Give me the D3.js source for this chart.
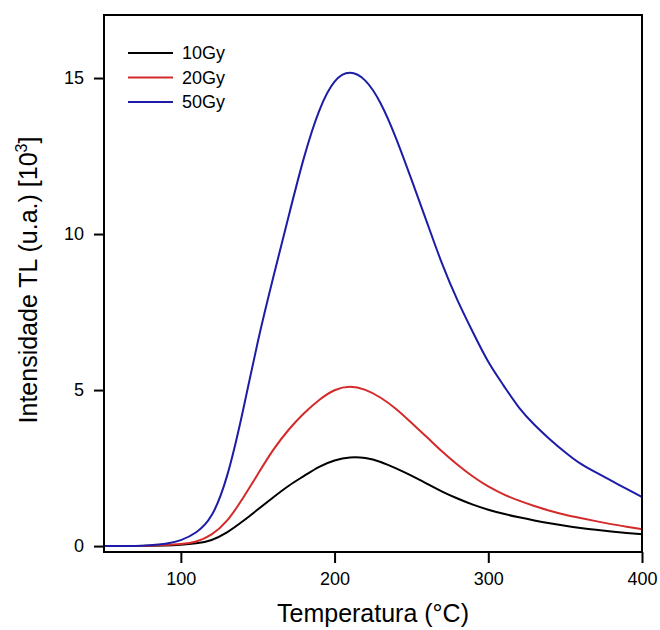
<!DOCTYPE html>
<html>
<head>
<meta charset="utf-8">
<script src="https://cdn.jsdelivr.net/npm/d3@7"></script>
<style>
  body { margin: 0; background: #fff; }
  text { font-family: "Liberation Sans", Arial, sans-serif; }
</style>
</head>
<body>
<div id="chart"></div>
<script>
// temperature grid (°C)
var temps = [50, 60, 70, 80, 90, 100, 110, 120, 130, 140, 150, 160, 170, 180, 190, 200, 210, 220,
             230, 240, 250, 260, 270, 280, 290, 300, 310, 320, 330, 340, 350, 360, 370, 380, 390, 400];

// TL intensity [10^3 u.a.]
var gy10 = [0, 0, 0, 0.01, 0.02, 0.04, 0.08, 0.17, 0.42, 0.78, 1.17, 1.56, 1.94, 2.24, 2.56, 2.76, 2.86, 2.84,
            2.71, 2.49, 2.26, 2.0, 1.74, 1.52, 1.32, 1.16, 1.03, 0.92, 0.82, 0.73, 0.65, 0.58, 0.52, 0.47, 0.42, 0.38];
var gy20 = [0, 0, 0, 0.01, 0.03, 0.06, 0.12, 0.34, 0.76, 1.5, 2.3, 3.1, 3.74, 4.26, 4.7, 5.03, 5.14, 5.03,
            4.77, 4.41, 3.95, 3.5, 3.02, 2.6, 2.22, 1.9, 1.65, 1.45, 1.28, 1.13, 1.0, 0.9, 0.8, 0.7, 0.62, 0.54];
var gy50 = [0, 0, 0, 0.02, 0.06, 0.17, 0.41, 0.85, 2.1, 4.2, 6.6, 8.6, 10.55, 12.5, 14.05, 15.0, 15.25, 15.0,
            14.25, 13.1, 11.75, 10.4, 9.0, 7.85, 6.85, 5.86, 5.15, 4.4, 3.88, 3.42, 3.0, 2.62, 2.36, 2.1, 1.83, 1.57];

var seriesNames = ["10Gy", "20Gy", "50Gy"];
var seriesColors = ["#000000", "#d42a2a", "#1c1ca8"];
var xTicks = [100, 200, 300, 400];
var yTicks = [0, 5, 10, 15];

var margin = {top: 15, right: 18, bottom: 78, left: 104},
    width = 660 - margin.left - margin.right,
    height = 630 - margin.top - margin.bottom;

var x = d3.scaleLinear().domain([50, 400]).range([0, width]);
var y = d3.scaleLinear().domain([-0.19, 17.02]).range([height, 0]);

var svg = d3.select("#chart").append("svg")
    .attr("width", 660)
    .attr("height", 630)
    .append("g")
    .attr("transform", "translate(" + margin.left + "," + margin.top + ")");

var series = [gy10, gy20, gy50].map(function (vals, i) {
    return {
        name: seriesNames[i],
        color: seriesColors[i],
        values: temps.map(function (t, j) { return {t: t, v: vals[j]}; })
    };
});

var line = d3.line()
    .x(function (d) { return x(d.t); })
    .y(function (d) { return y(d.v); })
    .curve(d3.curveBasis);

svg.append("defs").append("clipPath").attr("id", "clip")
    .append("rect").attr("width", width).attr("height", height);

svg.append("g").attr("clip-path", "url(#clip)")
    .selectAll("path")
    .data(series)
    .enter().append("path")
    .attr("fill", "none")
    .attr("stroke", function (d) { return d.color; })
    .attr("stroke-width", 2)
    .attr("d", function (d) { return line(d.values); });

// frame
svg.append("rect")
    .attr("width", width)
    .attr("height", height)
    .attr("fill", "none")
    .attr("stroke", "#000")
    .attr("stroke-width", 2);

// x axis
var xAxis = svg.append("g")
    .attr("transform", "translate(0," + height + ")")
    .call(d3.axisBottom(x).tickValues(xTicks).tickSize(11).tickPadding(9).tickSizeOuter(0));
xAxis.select(".domain").remove();
xAxis.selectAll("line").attr("stroke-width", 2);
xAxis.selectAll("text").attr("font-size", 18).attr("fill", "#000")
    .style("font-family", "'Liberation Sans', Arial, sans-serif");

// y axis
var yAxis = svg.append("g")
    .call(d3.axisLeft(y).tickValues(yTicks).tickSize(10).tickPadding(10).tickSizeOuter(0));
yAxis.select(".domain").remove();
yAxis.selectAll("line").attr("stroke-width", 2);
yAxis.selectAll("text").attr("font-size", 18).attr("fill", "#000")
    .style("font-family", "'Liberation Sans', Arial, sans-serif");

// axis titles
svg.append("text")
    .attr("x", width / 2)
    .attr("y", height + 70)
    .attr("text-anchor", "middle")
    .attr("font-size", 25)
    .text("Temperatura (°C)");

var yTitle = svg.append("text")
    .attr("transform", "translate(-67,265) rotate(-90)")
    .attr("text-anchor", "middle")
    .attr("font-size", 25);
yTitle.append("tspan").text("Intensidade TL (u.a.) [10");
yTitle.append("tspan").attr("font-size", 16).attr("dy", -10).text("3");
yTitle.append("tspan").attr("dy", 10).text("]");

// legend
var legend = svg.selectAll(".legend")
    .data(series)
    .enter().append("g")
    .attr("class", "legend")
    .attr("transform", function (d, i) { return "translate(24," + (38 + i * 24.5) + ")"; });

legend.append("line")
    .attr("x1", 0).attr("x2", 45)
    .attr("stroke", function (d) { return d.color; })
    .attr("stroke-width", 2);

legend.append("text")
    .attr("x", 54)
    .attr("dy", "0.35em")
    .attr("font-size", 18)
    .text(function (d) { return d.name; });
</script>
</body>
</html>
